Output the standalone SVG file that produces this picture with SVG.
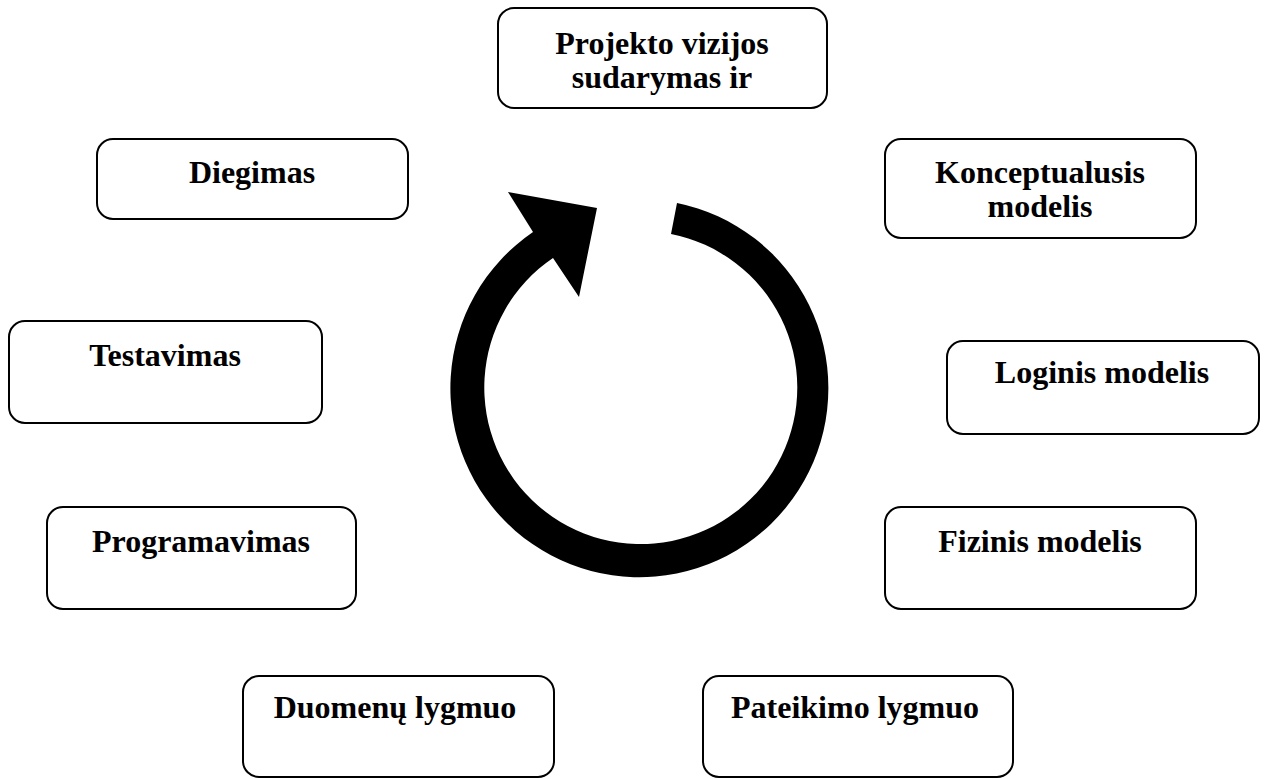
<svg xmlns="http://www.w3.org/2000/svg" width="1268" height="779" viewBox="0 0 1268 779">
  <style>
    .box { fill: #ffffff; stroke: #000000; stroke-width: 2; }
    .lbl { font-family: "Liberation Serif", "Times New Roman", serif; font-weight: bold; font-size: 32px; fill: #000000; text-anchor: middle; }
  </style>
  <rect width="1268" height="779" fill="#ffffff"/>

  <!-- cycle arrow (clockwise) -->
  <g id="connectors">
    <path fill="#000000" d="M 677 203 A 189 189 0 1 1 533 232 L 508 192 L 597 208 L 579 297 L 553 258 A 156.5 156.5 0 1 0 671 234 Z"/>
  </g>

  <g id="n-projekto">
    <rect class="box" x="498" y="8" width="329" height="100" rx="16"/>
    <text class="lbl" x="662" y="54">Projekto vizijos</text>
    <text class="lbl" x="662" y="88">sudarymas ir</text>
  </g>
  <g id="n-konceptualusis">
    <rect class="box" x="885" y="139" width="311" height="99" rx="16"/>
    <text class="lbl" x="1040" y="183">Konceptualusis</text>
    <text class="lbl" x="1040" y="217">modelis</text>
  </g>
  <g id="n-loginis">
    <rect class="box" x="947" y="341" width="312" height="93" rx="16"/>
    <text class="lbl" x="1102" y="383">Loginis modelis</text>
  </g>
  <g id="n-fizinis">
    <rect class="box" x="885" y="507" width="311" height="102" rx="16"/>
    <text class="lbl" x="1040" y="552">Fizinis modelis</text>
  </g>
  <g id="n-pateikimo">
    <rect class="box" x="703" y="676" width="310" height="101" rx="16"/>
    <text class="lbl" x="855" y="718">Pateikimo lygmuo</text>
  </g>
  <g id="n-duomenu">
    <rect class="box" x="243" y="676" width="311" height="101" rx="16"/>
    <text class="lbl" x="395" y="718">Duomenų lygmuo</text>
  </g>
  <g id="n-programavimas">
    <rect class="box" x="47" y="507" width="309" height="102" rx="16"/>
    <text class="lbl" x="201" y="552">Programavimas</text>
  </g>
  <g id="n-testavimas">
    <rect class="box" x="9" y="321" width="313" height="102" rx="16"/>
    <text class="lbl" x="165" y="366">Testavimas</text>
  </g>
  <g id="n-diegimas">
    <rect class="box" x="97" y="139" width="311" height="80" rx="16"/>
    <text class="lbl" x="252" y="183">Diegimas</text>
  </g>
</svg>
